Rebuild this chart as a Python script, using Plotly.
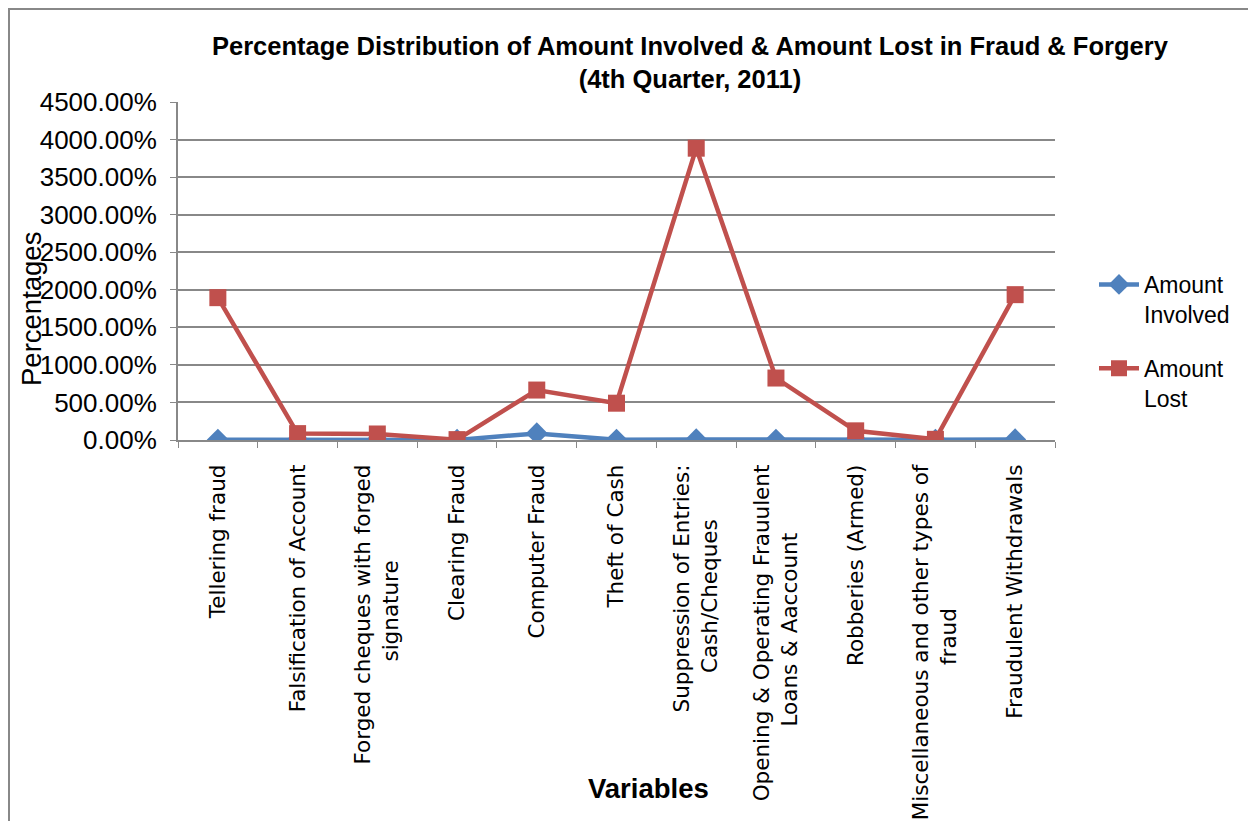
import plotly.graph_objects as go

NB = "\u00a0"
categories = [
    "Tellering fraud",
    "Falsification of Account",
    "Forged cheques with forged<br>signature" + NB * 14,
    "Clearing Fraud",
    "Computer Fraud",
    "Theft of Cash",
    "Suppression of Entries:<br>Cash/Cheques" + NB * 8,
    "Opening & Operating Frauulent<br>Loans & Aaccount" + NB * 10,
    "Robberies (Armed)",
    "Miscellaneous and other types of<br>fraud" + NB * 21,
    "Fraudulent Withdrawals",
]
amount_involved = [2, 3, 3, 1, 88, 2, 8, 2, 3, 2, 8]
amount_lost = [1895, 85, 80, 5, 665, 490, 3885, 825, 122, 9, 1935]

BLUE = "#4F81BD"
RED = "#C0504D"
GRID = "#888888"
SANS = "Liberation Sans, Arial, sans-serif"
WIDE = "DejaVu Sans, Verdana, sans-serif"

fig = go.Figure()
fig.add_trace(go.Scatter(
    x=categories, y=amount_involved, name="Amount<br>Involved",
    mode="lines+markers", legendgroup="involved",
    line=dict(color=BLUE, width=4.5),
    marker=dict(symbol="diamond", size=17, color=BLUE),
))
fig.add_trace(go.Scatter(
    x=categories, y=amount_lost, name="Amount<br>Lost",
    mode="lines+markers", legendgroup="lost",
    line=dict(color=RED, width=4.5),
    marker=dict(symbol="square", size=17, color=RED),
))

OFF = 8  # page body margin
W, H = 1248, 813
L, T = 178 - OFF, 102 - OFF
R = W - (1055 - OFF)
B = H - (440 - OFF)
pw, ph = W - L - R, H - T - B

def px(x):
    return (x - OFF - L) / pw

def py(y):
    return (H - B - (y - OFF)) / ph

fig.update_layout(
    width=W, height=H,
    margin=dict(l=L, r=R, t=T, b=B, autoexpand=False),
    paper_bgcolor="white", plot_bgcolor="white",
    font=dict(family=SANS, color="black"),
    showlegend=True,
    legend=dict(
        x=px(1094), y=py(263), xanchor="left", yanchor="top",
        font=dict(family=SANS, size=23, color="black"),
        tracegroupgap=21, itemwidth=40, valign="top",
        bgcolor="rgba(0,0,0,0)",
    ),
    xaxis=dict(
        type="category",
        tickangle=-90,
        tickfont=dict(family=WIDE, size=21.5, color="black"),
        ticklabelstandoff=14,
        showgrid=False,
        showline=True, linecolor=GRID, linewidth=2,
        ticks="outside", ticklen=6, tickcolor=GRID, tickwidth=1,
        tickson="boundaries",
        range=[-0.5, 10.5],
        zeroline=False,
    ),
    yaxis=dict(
        range=[0, 4500], dtick=500,
        tickformat=".2f", ticksuffix="%",
        tickfont=dict(family=SANS, size=26, color="black"),
        ticklabelstandoff=8,
        showgrid=True, gridcolor=GRID, gridwidth=2,
        showline=True, linecolor=GRID, linewidth=2,
        ticks="outside", ticklen=6, tickcolor=GRID,
        zeroline=False,
    ),
    annotations=[
        dict(
            text="<b>Percentage Distribution of Amount Involved & Amount Lost in Fraud & Forgery</b><br><b>(4th Quarter, 2011)</b>",
            xref="paper", yref="paper", x=px(690), y=py(62),
            xanchor="center", yanchor="middle", showarrow=False,
            font=dict(family=SANS, size=25.5, color="black"),
        ),
        dict(
            text="Percentages", textangle=-90,
            xref="paper", yref="paper", x=px(31), y=py(309),
            xanchor="center", yanchor="middle", showarrow=False,
            font=dict(family=SANS, size=27.5, color="black"),
        ),
        dict(
            text="<b>Variables</b>",
            xref="paper", yref="paper", x=px(648), y=py(788),
            xanchor="center", yanchor="middle", showarrow=False,
            font=dict(family=SANS, size=27.5, color="black"),
        ),
    ],
    shapes=[
        dict(
            type="rect", xref="paper", yref="paper",
            x0=px(9), x1=px(1250), y0=py(840), y1=py(9),
            line=dict(color=GRID, width=2), fillcolor="rgba(0,0,0,0)",
            layer="below",
        ),
    ],
)

fig.write_html("out.html")
